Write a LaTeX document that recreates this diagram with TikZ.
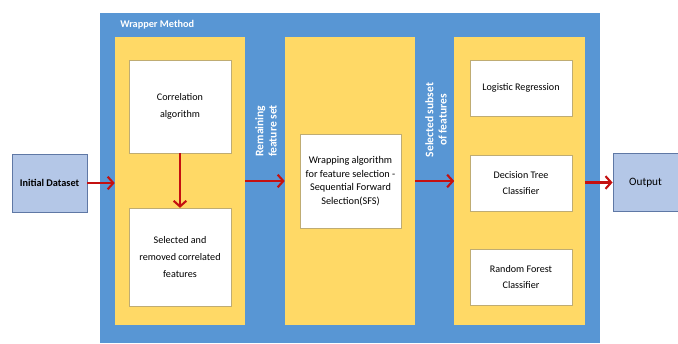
\documentclass[tikz,border=0pt]{standalone}
\usepackage{fontspec}
\setmainfont{Carlito}
\usetikzlibrary{arrows.meta}
\definecolor{wrapblue}{RGB}{88,150,212}
\definecolor{panelyellow}{RGB}{255,217,102}
\definecolor{ioblue}{RGB}{180,199,231}
\definecolor{ioedge}{RGB}{95,120,165}
\definecolor{flowred}{RGB}{196,16,16}
\tikzset{
	panel/.style={fill=panelyellow, minimum width=3.25cm, minimum height=7.2cm, inner sep=0pt},
	stepbox/.style={fill=white, draw=panelyellow!50!gray, line width=0.2pt, align=center, inner sep=1pt, minimum width=2.55cm, font=\fontsize{7.2}{12}\selectfont},
	iobox/.style={fill=ioblue, draw=ioedge, line width=0.6pt, minimum height=1.45cm, inner sep=0pt},
	flow/.style={draw=flowred, line width=1.5pt, -{Straight Barb[length=4pt,width=9pt]}},
	sidelabel/.style={text=white, font=\fontsize{8.2}{9.5}\selectfont\bfseries, rotate=90, align=center, inner sep=0pt}
}
\begin{document}
\begin{tikzpicture}[x=0.025cm, y=-0.025cm]
		\useasboundingbox (0,0) rectangle (678,343);
		\fill[white] (0,0) rectangle (678,343);

		\fill[wrapblue] (100,13) rectangle (600,343);
		\node[anchor=west, text=white, font=\fontsize{7.3}{9}\selectfont\bfseries, inner sep=0pt] (wraptitle) at (120,25) {Wrapper Method};

		\node[panel] (corrpanel) at (180,181) {};
		\node[panel] (sfspanel) at (350,181) {};
		\node[panel] (clfpanel) at (519.5,181) {};

		\node[stepbox, minimum height=2.325cm] (corr) at (180,106.5) {Correlation\\algorithm};
		\node[stepbox, minimum height=2.45cm] (removed) at (180,257) {Selected and\\removed correlated\\features};
		\node[stepbox, minimum width=2.525cm, minimum height=2.35cm, font=\fontsize{7.3}{9.6}\selectfont] (sfs) at (350.5,181) {Wrapping algorithm\\for feature selection -\\Sequential Forward\\Selection(SFS)};

		\node[stepbox, minimum height=1.4cm] (logreg) at (521,88) {Logistic Regression};
		\node[stepbox, minimum height=1.4cm] (dtree) at (521,183) {Decision Tree\\Classifier};
		\node[stepbox, minimum height=1.4cm] (rforest) at (521,277) {Random Forest\\Classifier};

		\node[iobox, minimum width=1.875cm, font=\fontsize{7.3}{9}\selectfont\bfseries] (dataset) at (49.5,183) {Initial Dataset};
		\node[iobox, minimum width=1.625cm, font=\fontsize{8}{9}\selectfont] (output) at (645.5,182.5) {Output};

		\node[sidelabel] (remaining) at (266,131) {Remaining\\feature set};
		\node[sidelabel] (subset) at (436,120) {Selected subset\\of features};

		\draw[flow] (dataset.east) -- (corrpanel.west |- dataset.east);
		\draw[flow] (corr.south) -- (removed.north);
		\draw[flow] (corrpanel.east |- sfs) -- (sfspanel.west |- sfs);
		\draw[flow] (sfspanel.east |- sfs) -- (clfpanel.west |- sfs);
		\draw[flow] (clfpanel.east |- output.west) -- (output.west);

		\end{tikzpicture}
\end{document}
